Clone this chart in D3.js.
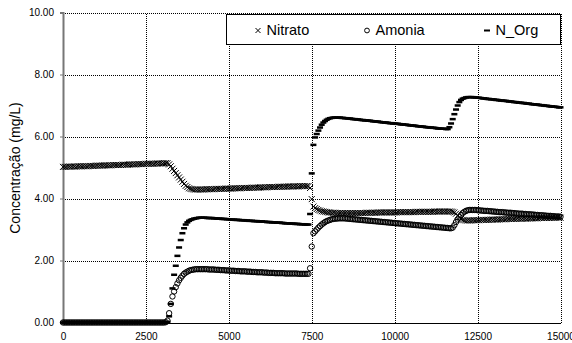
<!DOCTYPE html>
<html>
<head>
<meta charset="utf-8">
<script src="https://cdn.jsdelivr.net/npm/d3@7"></script>
<style>
body { margin: 0; background: #fff; }
svg { display: block; font-family: Arial, "Liberation Sans", sans-serif; }
</style>
</head>
<body>
<div id="chart"></div>
<script>
var w = 572;
var h = 343;

// time axis, one sample every 50 units
var tempo = d3.range(0, 15001, 50);

var nitrato = [
	5.02,5.02,5.02,5.03,5.03,5.03,5.03,5.03,5.03,5.04,
	5.04,5.04,5.04,5.04,5.04,5.04,5.05,5.05,5.05,5.05,
	5.06,5.06,5.06,5.06,5.06,5.07,5.07,5.07,5.07,5.07,
	5.08,5.08,5.08,5.08,5.08,5.08,5.09,5.09,5.09,5.09,
	5.10,5.10,5.10,5.10,5.10,5.11,5.11,5.11,5.11,5.11,
	5.12,5.12,5.12,5.12,5.12,5.12,5.13,5.13,5.13,5.13,
	5.13,5.14,5.14,5.14,5.10,5.04,4.96,4.89,4.82,4.75,
	4.68,4.61,4.54,4.47,4.41,4.37,4.33,4.31,4.30,4.29,
	4.29,4.29,4.29,4.29,4.29,4.29,4.30,4.30,4.30,4.30,
	4.30,4.30,4.31,4.31,4.31,4.31,4.31,4.31,4.32,4.32,
	4.32,4.32,4.32,4.33,4.33,4.33,4.33,4.33,4.34,4.34,
	4.34,4.34,4.34,4.34,4.35,4.35,4.35,4.35,4.35,4.36,
	4.36,4.36,4.36,4.36,4.37,4.37,4.37,4.37,4.37,4.37,
	4.38,4.38,4.38,4.38,4.38,4.38,4.39,4.39,4.39,4.39,
	4.39,4.39,4.39,4.40,4.40,4.40,4.40,4.40,4.40,4.34,
	3.98,3.74,3.69,3.66,3.63,3.61,3.59,3.58,3.57,3.56,
	3.55,3.55,3.54,3.54,3.54,3.53,3.53,3.53,3.53,3.53,
	3.53,3.53,3.53,3.53,3.53,3.53,3.53,3.53,3.53,3.53,
	3.53,3.53,3.53,3.54,3.54,3.54,3.54,3.54,3.54,3.54,
	3.55,3.55,3.55,3.55,3.55,3.55,3.55,3.55,3.55,3.55,
	3.55,3.55,3.56,3.56,3.56,3.56,3.56,3.56,3.56,3.56,
	3.56,3.56,3.56,3.57,3.57,3.57,3.57,3.57,3.57,3.57,
	3.57,3.57,3.57,3.57,3.58,3.58,3.58,3.58,3.58,3.58,
	3.58,3.58,3.58,3.58,3.58,3.57,3.55,3.51,3.45,3.39,
	3.34,3.31,3.30,3.29,3.29,3.29,3.29,3.30,3.30,3.30,
	3.30,3.30,3.31,3.31,3.31,3.31,3.31,3.31,3.32,3.32,
	3.32,3.32,3.32,3.33,3.33,3.33,3.33,3.33,3.34,3.34,
	3.34,3.34,3.34,3.34,3.35,3.35,3.35,3.35,3.35,3.35,
	3.35,3.36,3.36,3.36,3.36,3.36,3.36,3.37,3.37,3.37,
	3.37,3.37,3.37,3.37,3.37,3.38,3.38,3.38,3.38,3.38,
	3.38
];

var amonia = [
	0,0,0,0,0,0,0,0,0,0,
	0,0,0,0,0,0,0,0,0,0,
	0,0,0,0,0,0,0,0,0,0,
	0,0,0,0,0,0,0,0,0,0,
	0,0,0,0,0,0,0,0,0,0,
	0,0,0,0,0,0,0,0,0,0,
	0,0,0.01,0.06,0.30,0.60,0.84,1.00,1.14,1.26,
	1.36,1.44,1.51,1.57,1.61,1.64,1.67,1.69,1.70,1.71,
	1.72,1.72,1.72,1.72,1.72,1.72,1.72,1.72,1.71,1.71,
	1.71,1.71,1.70,1.70,1.70,1.69,1.69,1.69,1.68,1.68,
	1.68,1.67,1.67,1.67,1.66,1.66,1.66,1.65,1.65,1.65,
	1.65,1.64,1.64,1.64,1.63,1.63,1.63,1.62,1.62,1.62,
	1.62,1.61,1.61,1.61,1.60,1.60,1.60,1.60,1.59,1.59,
	1.59,1.59,1.59,1.59,1.58,1.58,1.58,1.58,1.58,1.58,
	1.58,1.58,1.57,1.57,1.57,1.57,1.57,1.57,1.57,1.75,
	2.45,2.88,2.94,3.00,3.06,3.11,3.16,3.20,3.24,3.27,
	3.29,3.31,3.33,3.34,3.35,3.35,3.36,3.36,3.36,3.36,
	3.36,3.35,3.35,3.34,3.34,3.33,3.33,3.32,3.32,3.31,
	3.31,3.30,3.30,3.29,3.29,3.28,3.28,3.27,3.27,3.26,
	3.26,3.25,3.25,3.24,3.24,3.23,3.23,3.22,3.22,3.21,
	3.21,3.20,3.20,3.19,3.19,3.18,3.18,3.17,3.17,3.16,
	3.16,3.15,3.15,3.14,3.14,3.13,3.13,3.12,3.12,3.11,
	3.11,3.10,3.10,3.09,3.09,3.08,3.08,3.07,3.07,3.06,
	3.06,3.05,3.05,3.04,3.04,3.06,3.14,3.24,3.32,3.40,
	3.47,3.53,3.57,3.60,3.62,3.63,3.63,3.63,3.63,3.63,
	3.62,3.62,3.61,3.61,3.60,3.60,3.60,3.59,3.59,3.58,
	3.58,3.57,3.57,3.56,3.56,3.56,3.55,3.55,3.54,3.54,
	3.54,3.53,3.53,3.52,3.52,3.51,3.51,3.51,3.50,3.50,
	3.49,3.49,3.49,3.48,3.48,3.47,3.47,3.46,3.46,3.46,
	3.45,3.45,3.44,3.44,3.44,3.43,3.43,3.42,3.42,3.42,
	3.41
];

var nOrg = [
	0,0,0,0,0,0,0,0,0,0,
	0,0,0,0,0,0,0,0,0,0,
	0,0,0,0,0,0,0,0,0,0,
	0,0,0,0,0,0,0,0,0,0,
	0,0,0,0,0,0,0,0,0,0,
	0,0,0,0,0,0,0,0,0,0,
	0,0,0,0.02,0.20,0.60,1.10,1.54,1.83,2.15,
	2.42,2.66,2.88,3.04,3.16,3.23,3.28,3.31,3.33,3.35,
	3.36,3.37,3.38,3.38,3.38,3.38,3.38,3.37,3.37,3.37,
	3.37,3.36,3.36,3.35,3.35,3.35,3.34,3.34,3.34,3.33,
	3.33,3.32,3.32,3.32,3.31,3.31,3.31,3.30,3.30,3.30,
	3.29,3.29,3.28,3.28,3.28,3.27,3.27,3.27,3.26,3.26,
	3.26,3.25,3.25,3.24,3.24,3.24,3.23,3.23,3.23,3.22,
	3.22,3.22,3.21,3.21,3.20,3.20,3.20,3.19,3.19,3.19,
	3.18,3.18,3.18,3.17,3.17,3.17,3.16,3.16,3.16,3.50,
	4.81,5.73,5.97,6.08,6.19,6.29,6.38,6.45,6.50,6.54,
	6.57,6.59,6.60,6.61,6.61,6.61,6.61,6.61,6.60,6.60,
	6.59,6.59,6.58,6.58,6.57,6.56,6.56,6.55,6.55,6.54,
	6.53,6.53,6.52,6.52,6.51,6.51,6.50,6.49,6.49,6.48,
	6.48,6.47,6.46,6.46,6.45,6.45,6.44,6.43,6.43,6.42,
	6.42,6.41,6.41,6.40,6.39,6.39,6.38,6.38,6.37,6.36,
	6.36,6.35,6.35,6.34,6.33,6.33,6.32,6.32,6.31,6.30,
	6.30,6.29,6.29,6.28,6.28,6.27,6.26,6.26,6.25,6.25,
	6.25,6.24,6.24,6.30,6.42,6.56,6.72,6.87,7.00,7.11,
	7.18,7.22,7.24,7.26,7.27,7.27,7.27,7.27,7.26,7.26,
	7.25,7.25,7.24,7.23,7.23,7.22,7.21,7.21,7.20,7.20,
	7.19,7.18,7.18,7.17,7.16,7.16,7.15,7.15,7.14,7.13,
	7.13,7.12,7.11,7.11,7.10,7.09,7.09,7.08,7.08,7.07,
	7.06,7.06,7.05,7.04,7.04,7.03,7.03,7.02,7.01,7.01,
	7.00,6.99,6.99,6.98,6.97,6.97,6.96,6.96,6.95,6.94,
	6.94
];

var yTicks = [0, 2, 4, 6, 8, 10];
var xTicks = [0, 2500, 5000, 7500, 10000, 12500, 15000];
var legendNames = ["Nitrato", "Amonia", "N_Org"];

var plotLeft = 63, plotRight = 560.5, plotTop = 12.5, plotBottom = 322.5;

var xScale = d3.scaleLinear().domain([0, 15000]).range([plotLeft, plotRight]);
var yScale = d3.scaleLinear().domain([0, 10]).range([plotBottom, plotTop]);

var svg = d3.select("#chart")
	.append("svg")
	.attr("width", w)
	.attr("height", h);

//Gridlines
var gy = svg.append("g")
	.attr("transform", "translate(" + plotLeft + ",0)")
	.call(d3.axisLeft(yScale).tickValues(yTicks.slice(1)).tickSize(-(plotRight - plotLeft)).tickFormat(""));
var gx = svg.append("g")
	.attr("transform", "translate(0," + plotBottom + ")")
	.call(d3.axisBottom(xScale).tickValues(xTicks.slice(1)).tickSize(-(plotBottom - plotTop)).tickFormat(""));
[gy, gx].forEach(function (g) {
	g.select(".domain").remove();
	g.selectAll("line")
		.attr("stroke", "#000")
		.attr("stroke-dasharray", "1,1")
		.attr("shape-rendering", "crispEdges");
});

//Axes
var yAxis = svg.append("g")
	.attr("transform", "translate(" + plotLeft + ",0)")
	.call(d3.axisLeft(yScale).tickValues(yTicks).tickSize(3).tickPadding(6).tickFormat(d3.format(".2f")));
yAxis.select(".domain").attr("stroke", "#777").attr("stroke-width", 2);
yAxis.selectAll("line").attr("stroke", "#777");
yAxis.selectAll("text").attr("font-size", "10px").attr("font-family", "Arial, 'Liberation Sans', sans-serif").attr("fill", "#000");

var xAxis = svg.append("g")
	.attr("transform", "translate(0," + plotBottom + ")")
	.call(d3.axisBottom(xScale).tickValues(xTicks).tickSize(0).tickPadding(10).tickFormat(d3.format("d")));
xAxis.select(".domain").attr("stroke", "#000").attr("stroke-width", 1).attr("shape-rendering", "crispEdges");
xAxis.selectAll("text").attr("font-size", "10px").attr("font-family", "Arial, 'Liberation Sans', sans-serif").attr("fill", "#000");

svg.append("text")
	.attr("transform", "translate(15,168) rotate(-90)")
	.attr("text-anchor", "middle")
	.attr("dy", "0.35em")
	.attr("font-size", "14px")
	.text("Concentração (mg/L)");

//Series
var cross = "M-3,-3L3,3M-3,3L3,-3";

svg.append("g").selectAll("path")
	.data(nitrato)
	.enter()
	.append("path")
	.attr("d", cross)
	.attr("transform", function (d, i) {
		return "translate(" + xScale(tempo[i]) + "," + yScale(d) + ")";
	})
	.attr("fill", "none")
	.attr("stroke", "#000")
	.attr("stroke-width", 1);

svg.append("g").selectAll("circle")
	.data(amonia)
	.enter()
	.append("circle")
	.attr("cx", function (d, i) { return xScale(tempo[i]); })
	.attr("cy", function (d) { return yScale(d); })
	.attr("r", 2.7)
	.attr("fill", "none")
	.attr("stroke", "#000")
	.attr("stroke-width", 1);

svg.append("g").selectAll("rect")
	.data(nOrg)
	.enter()
	.append("rect")
	.attr("x", function (d, i) { return xScale(tempo[i]) - 3; })
	.attr("y", function (d) { return yScale(d) - 1.25; })
	.attr("width", 6)
	.attr("height", 2.5)
	.attr("fill", "#000");

//Legend
var leg = svg.append("g");
leg.append("rect")
	.attr("x", 226.5).attr("y", 14.5)
	.attr("width", 334).attr("height", 30)
	.attr("fill", "#fff").attr("stroke", "#000");
var legX = [258, 367, 487];
leg.append("path").attr("d", "M-2.5,-2.5L2.5,2.5M-2.5,2.5L2.5,-2.5")
	.attr("transform", "translate(" + legX[0] + ",30.5)")
	.attr("stroke", "#000").attr("fill", "none");
leg.append("circle").attr("cx", legX[1]).attr("cy", 30.5).attr("r", 2.4)
	.attr("stroke", "#000").attr("fill", "none");
leg.append("rect").attr("x", legX[2] - 3).attr("y", 29.5).attr("width", 6).attr("height", 2)
	.attr("fill", "#000");
leg.selectAll("text")
	.data(legendNames)
	.enter()
	.append("text")
	.attr("x", function (d, i) { return legX[i] + 8.5; })
	.attr("y", 35)
	.attr("font-size", "14.5px")
	.text(function (d) { return d; });
</script>
</body>
</html>
